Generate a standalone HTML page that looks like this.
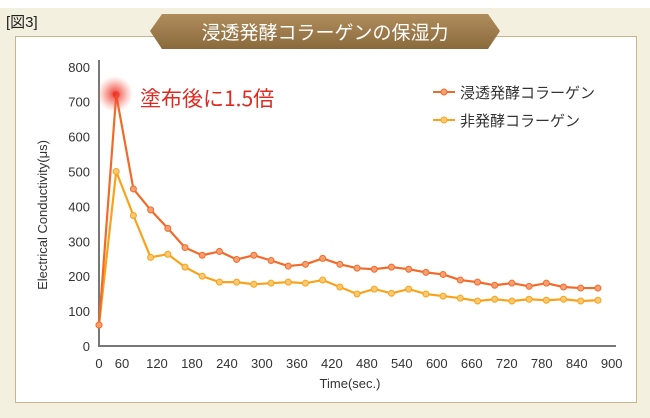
<!DOCTYPE html>
<html><head><meta charset="utf-8"><style>
html,body{margin:0;padding:0;background:#f4f0e0;}
body{width:650px;height:413px;position:relative;overflow:hidden;font-family:"Liberation Sans","Noto Sans CJK JP",sans-serif;}
</style></head><body>
<svg width="650" height="413" xmlns="http://www.w3.org/2000/svg">
<defs>
<linearGradient id="bn" x1="0" y1="0" x2="0" y2="1"><stop offset="0" stop-color="#b08c5c"/><stop offset="1" stop-color="#8a6a3c"/></linearGradient>
<radialGradient id="glow"><stop offset="0" stop-color="#e8201c" stop-opacity="0.9"/><stop offset="0.5" stop-color="#f05040" stop-opacity="0.5"/><stop offset="1" stop-color="#f88070" stop-opacity="0"/></radialGradient>
</defs>
<rect x="0" y="0" width="650" height="8" fill="#ffffff"/>
<text x="6" y="27" font-size="15" fill="#222">[図3]</text>
<rect x="15.5" y="36.5" width="621" height="366" fill="#ffffff" stroke="#c9b48c" stroke-width="1"/>
<polygon points="150,31 162,14 488,14 500,31 488,49 162,49" fill="url(#bn)"/>
<text x="325" y="39" font-size="19" fill="#ffffff" text-anchor="middle" font-family="'Noto Sans CJK JP',sans-serif">浸透発酵コラーゲンの保湿力</text>
<g id="axes"></g>
<g id="series"></g>
<circle cx="115" cy="94" r="18" fill="url(#glow)"/>
<text x="140" y="106" font-size="21" fill="#e02a20" font-family="'Noto Sans CJK JP',sans-serif">塗布後に1.5倍</text>
<g>
<line x1="433" y1="92" x2="455" y2="92" stroke="#f26a2a" stroke-width="2"/><circle cx="444" cy="92" r="3" fill="#f5a070" stroke="#f26a2a"/>
<text x="460" y="98" font-size="15" fill="#333" font-family="'Noto Sans CJK JP',sans-serif">浸透発酵コラーゲン</text>
<line x1="433" y1="120" x2="455" y2="120" stroke="#f9a21b" stroke-width="2"/><circle cx="444" cy="120" r="3" fill="#fcc870" stroke="#f9a21b"/>
<text x="460" y="126" font-size="15" fill="#333" font-family="'Noto Sans CJK JP',sans-serif">非発酵コラーゲン</text>
</g>
<text x="0" y="0" transform="translate(47,215) rotate(-90)" font-size="13" fill="#333" text-anchor="middle">Electrical Conductivity(μs)</text>
<text x="350" y="388" font-size="13" fill="#333" text-anchor="middle">Time(sec.)</text>
</svg>
<script>
const times=[0,30,60,90,120,150,180,210,240,270,300,330,360,390,420,450,480,510,540,570,600,630,660,690,720,750,780,810,840,870];
const fermented=[60,720,450,390,337,282,260,271,248,260,245,229,234,251,234,223,220,226,220,211,205,189,183,174,180,171,180,169,166,166];
const nonFermented=[60,500,374,254,263,226,200,183,183,177,180,183,180,189,169,149,163,151,163,149,143,137,129,134,129,134,131,134,129,131];
const yTicks=[0,100,200,300,400,500,600,700,800];
const xTicks=[0,60,120,180,240,300,360,420,480,540,600,660,720,780,840,900];
const NS='http://www.w3.org/2000/svg';
const ys=v=>346-v*0.349;
const xs=t=>99+t*0.5735;
const xl=t=>t===0?99:87+t*0.583;
const ax=document.getElementById('axes'),sr=document.getElementById('series');
function mk(tag,at,p){const e=document.createElementNS(NS,tag);for(const k in at)e.setAttribute(k,at[k]);p.appendChild(e);return e;}
const yl=mk('line',{x1:99,y1:60,x2:99,y2:346,stroke:'#777','stroke-width':2},ax);


const xa=mk('line',{x1:98,y1:346,x2:616,y2:346,stroke:'#777','stroke-width':2},ax);


yTicks.forEach(v=>{const t=mk('text',{x:90,y:ys(v)+5,'font-size':13,fill:'#333','text-anchor':'end'},ax);t.textContent=v;

});
xTicks.forEach(v=>{const t=mk('text',{x:xl(v),y:368,'font-size':13,fill:'#333','text-anchor':'middle'},ax);t.textContent=v;

});
function draw(data,col,fill,name){
const pl=mk('polyline',{points:data.map((v,i)=>xs(times[i])+','+ys(v)).join(' '),fill:'none',stroke:col,'stroke-width':2.2,'stroke-linejoin':'round'},sr);


data.forEach((v,i)=>{const c=mk('circle',{cx:xs(times[i]),cy:ys(v),r:3,fill:fill,stroke:col,'stroke-width':1},sr);

});}
draw(nonFermented,'#f9a21b','#fcc870','nonfermented');
draw(fermented,'#f26a2a','#f5a070','fermented');
</script>
</body></html>
